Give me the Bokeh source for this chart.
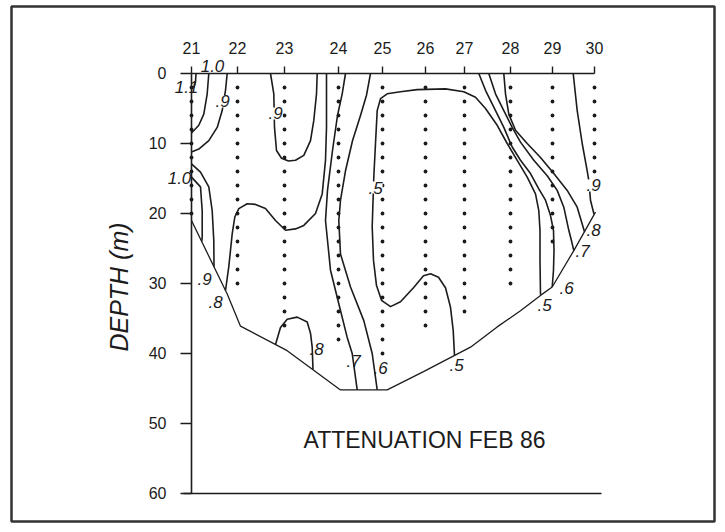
from bokeh.plotting import figure
from bokeh.models import Range1d, FixedTicker, Label, LabelSet, ColumnDataSource
from bokeh.core.properties import value
from bokeh.embed import file_html
from bokeh.resources import INLINE

# --- section geometry -------------------------------------------------------
stations = ["21", "22", "23", "24", "25", "26", "27", "28", "29", "30"]
station_km = [0.0, 4.6, 9.3, 14.7, 19.1, 23.4, 27.3, 31.9, 36.1, 40.3]
sample_max_depth = [20, 30, 36, 38, 40, 36, 34, 30, 24, 14]
sample_step = 2
depth_ticks = [0, 10, 20, 30, 40, 50, 60]

floor_km = [0.0, 3.57, 4.9, 9.57, 14.9, 19.57, 23.2, 27.9, 30.57, 32.9, 34.9, 36.07, 38.23, 40.4]
floor_depth = [21.0, 31.5, 36.1, 39.6, 45.2, 45.2, 42.6, 39.1, 36.2, 33.9, 31.7, 30.5, 25.3, 19.8]

# --- attenuation isolines (km along section, depth m) ----------------------
iso_110 = {"km": [0.45, 0.4, 0.25, 0.0], "depth": [0.0, 1.2, 1.9, 2.2]}
iso_100_top = {"km": [1.73, 1.57, 1.23, 0.73, 0.07, 0.0],
               "depth": [0.0, 2.9, 5.8, 7.4, 8.4, 8.5]}
iso_090_top = {"km": [3.57, 3.4, 3.07, 2.57, 1.73, 0.73, 0.0],
               "depth": [0.0, 2.4, 5.3, 7.7, 9.6, 10.8, 11.2]}
iso_090_low = {"km": [0.0, 0.9, 1.73, 2.07, 2.23, 2.25],
               "depth": [12.9, 14.1, 16.2, 19.6, 23.9, 27.6]}
iso_100_low = {"km": [0.0, 0.9, 1.07, 1.07, 1.03],
               "depth": [14.8, 16.2, 19.6, 23.4, 24.0]}
iso_090_u = {"km": [7.9, 8.23, 8.3, 8.5, 9.0, 9.7, 10.4, 11.23, 11.9, 12.23, 12.5, 12.57],
             "depth": [0.0, 2.9, 7.7, 11.0, 12.1, 12.5, 12.4, 11.7, 9.6, 6.7, 2.9, 0.0]}
iso_080_w = {"km": [3.4, 3.73, 4.07, 4.33, 4.73, 5.57, 6.4, 7.4, 8.4, 9.4, 10.4,
                    11.23, 12.4, 13.07, 13.4, 13.5, 13.5],
             "depth": [31.0, 27.6, 22.9, 20.5, 19.3, 18.6, 18.7, 19.3, 21.0, 22.4, 22.2,
                       21.7, 20.0, 17.2, 12.4, 7.7, 0.0]}
iso_080_bump = {"km": [8.4, 8.9, 9.57, 10.57, 11.57, 11.9, 12.07, 12.15],
                "depth": [38.7, 36.3, 35.1, 34.8, 35.5, 37.1, 39.1, 42.3]}
iso_070_w = {"km": [15.4, 15.07, 14.6, 14.1, 13.6, 13.4, 13.9, 14.73, 15.57, 16.07, 16.57],
             "depth": [0.0, 2.9, 6.0, 11.0, 16.7, 21.0, 28.1, 32.9, 37.7, 40.0, 45.2]}
iso_060_w = {"km": [17.9, 17.5, 16.9, 16.1, 15.4, 14.9, 14.73, 14.9, 15.9, 17.23, 18.07, 18.57],
             "depth": [0.0, 3.1, 6.0, 9.6, 13.9, 18.1, 21.0, 25.8, 30.5, 35.3, 40.0, 45.2]}
iso_050 = {"km": [26.3, 26.17, 25.9, 25.4, 24.7, 23.9, 23.2, 22.2, 20.9, 19.9, 19.0, 18.5,
                  18.2, 18.07, 18.23, 18.4, 18.57, 18.9, 19.57, 20.9, 22.57, 25.4, 27.23,
                  28.4, 29.4, 30.57, 31.57, 32.57, 33.57, 34.4, 34.73, 34.85, 34.85, 34.9],
           "depth": [40.3, 36.7, 33.4, 30.6, 29.1, 28.6, 28.9, 30.6, 32.6, 33.3, 32.4, 30.3,
                     26.7, 21.9, 14.8, 10.0, 5.3, 3.6, 2.9, 2.6, 2.3, 2.2, 2.6,
                     3.4, 5.0, 7.4, 10.0, 12.4, 14.8, 17.2, 19.6, 22.4, 26.7, 31.6]}
iso_060_e = {"km": [28.73, 29.4, 30.23, 31.23, 32.07, 32.9, 33.9, 34.7, 35.4, 35.9, 36.2,
                    36.25, 36.2, 36.07],
             "depth": [0.0, 2.4, 4.8, 7.7, 10.5, 12.4, 14.3, 16.4, 18.1, 20.3, 22.4,
                       25.3, 28.1, 30.5]}
iso_070_e = {"km": [29.73, 30.4, 31.23, 32.07, 32.9, 34.23, 35.57, 36.57, 37.23, 37.73, 38.0, 38.23],
             "depth": [0.0, 2.9, 5.3, 7.7, 9.8, 12.4, 14.6, 16.7, 19.1, 22.4, 23.9, 25.3]}
iso_080_e = {"km": [31.23, 31.4, 31.73, 32.4, 33.57, 34.9, 36.23, 37.57, 38.57, 39.3],
             "depth": [0.0, 2.9, 5.8, 8.1, 10.0, 12.0, 14.3, 16.7, 19.1, 22.6]}
iso_090_e = {"km": [38.17, 38.57, 39.07, 39.57, 39.73, 39.9, 40.25],
             "depth": [0.0, 5.3, 10.0, 13.9, 15.3, 18.1, 20.1]}

isolines = [iso_110, iso_100_top, iso_090_top, iso_090_low, iso_100_low, iso_090_u,
            iso_080_w, iso_080_bump, iso_070_w, iso_060_w, iso_050,
            iso_060_e, iso_070_e, iso_080_e, iso_090_e]

# isoline value tags; the first group interrupts its line
tag_text = [".9", ".9", ".5", ".9"]
tag_km = [3.1, 8.4, 18.4, 40.2]
tag_depth = [4.0, 5.7, 16.3, 16.0]

end_text = ["1.1", "1.0", "1.0", ".9", ".8", ".8", ".7", ".6", ".5", ".5", ".6", ".7", ".8"]
end_km = [-0.5, 2.1, -1.2, 1.3, 2.4, 12.5, 16.2, 18.9, 26.5, 35.3, 37.5, 39.1, 40.2]
end_depth = [1.9, -1.0, 15.0, 29.3, 32.6, 39.3, 41.1, 42.1, 41.7, 33.1, 30.6, 25.4, 22.3]

title = "ATTENUATION FEB 86"

INK = "#1c1c1c"
FONT = "Liberation Sans"

# the plot frame is the page frame; axes sit at fixed positions inside it
p = figure(width=725, height=532,
           x_range=Range1d(-18.0, 52.3), y_range=Range1d(64.0, -9.571),
           x_axis_location="above", y_axis_location="left",
           output_backend="svg", toolbar_location=None,
           min_border_left=11, min_border_right=11,
           min_border_top=6, min_border_bottom=11,
           background_fill_color="white", border_fill_color="white")
p.outline_line_color = "#333333"
p.outline_line_width = 2.5
p.grid.visible = False

# station axis along the surface
xa = p.xaxis[0]
xa.fixed_location = 0
xa.ticker = FixedTicker(ticks=station_km)
xa.major_label_overrides = {k: s for k, s in zip(station_km, stations)}
xa.bounds = (0, station_km[-1])
xa.major_tick_out = 7
xa.major_tick_in = 0
xa.minor_tick_line_color = None
xa.major_label_standoff = 12
xa.axis_line_color = INK
xa.axis_line_width = 1.6
xa.major_tick_line_color = INK
xa.major_tick_line_width = 1.4
xa.major_label_text_font = FONT
xa.major_label_text_font_size = "16px"
xa.major_label_text_color = INK

# depth axis
ya = p.yaxis[0]
ya.fixed_location = 0
ya.ticker = FixedTicker(ticks=depth_ticks)
ya.bounds = (0, 60)
ya.major_tick_out = 11
ya.major_tick_in = 0
ya.minor_tick_line_color = None
ya.major_label_standoff = 14
ya.axis_line_color = INK
ya.axis_line_width = 1.6
ya.major_tick_line_color = INK
ya.major_tick_line_width = 1.4
ya.major_label_text_font = FONT
ya.major_label_text_font_size = "16px"
ya.major_label_text_color = INK
ya.axis_label = "DEPTH  (m)"
ya.axis_label_text_font = FONT
ya.axis_label_text_font_style = "italic"
ya.axis_label_text_font_size = "25px"
ya.axis_label_text_color = INK
ya.axis_label_standoff = 13

# base line at 60 m
p.segment(x0=[-0.8], y0=[60], x1=[41.0], y1=[60], line_color=INK, line_width=1.6)

# sampling points
dot_x, dot_y = [], []
for km, dmax in zip(station_km, sample_max_depth):
    for d in range(sample_step, dmax + 1, sample_step):
        dot_x.append(km)
        dot_y.append(d)
p.scatter(dot_x, dot_y, size=3.8, color=INK, line_color=None)

# section floor
p.line(floor_km, floor_depth, line_color=INK, line_width=1.3)

# isolines
p.multi_line([c["km"] for c in isolines], [c["depth"] for c in isolines],
             line_color=INK, line_width=1.6, line_join="round")

tags = LabelSet(source=ColumnDataSource(dict(x=tag_km, y=tag_depth, t=tag_text)),
                x="x", y="y", text="t", text_align="center", text_baseline="middle",
                text_font=value(FONT), text_font_style="italic", text_font_size="17px",
                text_color=INK, background_fill_color="white")
p.add_layout(tags)
ends = LabelSet(source=ColumnDataSource(dict(x=end_km, y=end_depth, t=end_text)),
                x="x", y="y", text="t", text_align="center", text_baseline="middle",
                text_font=value(FONT), text_font_style="italic", text_font_size="17px",
                text_color=INK)
p.add_layout(ends)

p.add_layout(Label(x=23.3, y=52.3, text=title, text_align="center",
                   text_baseline="middle", text_font=FONT, text_font_size="23px",
                   text_color=INK))

open("out.html", "w").write(file_html(p, INLINE))
